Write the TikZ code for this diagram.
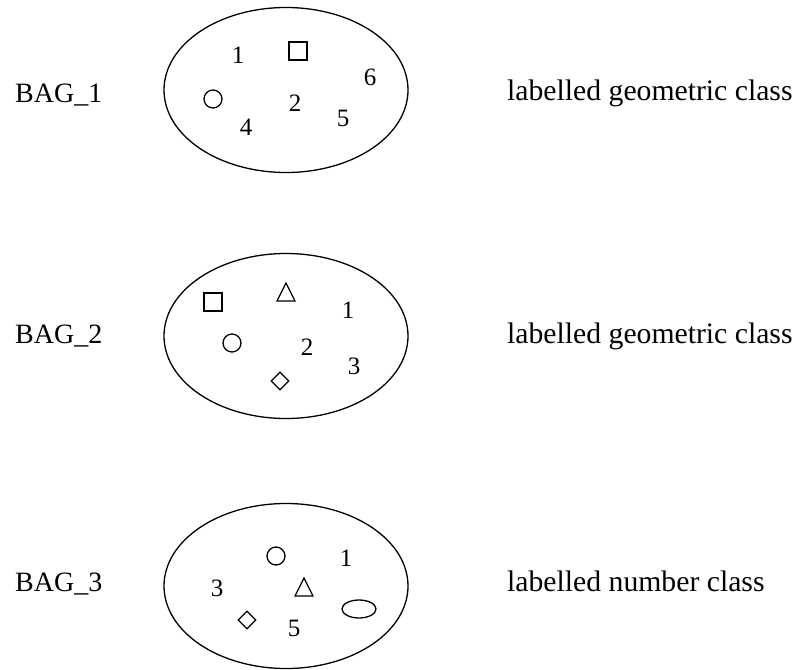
\documentclass[tikz,border=0pt]{standalone}
\usepackage{fontspec}
\setmainfont{Liberation Serif}
\usetikzlibrary{shapes.geometric}
\tikzset{
  bag/.style={draw, ellipse, line width=1.3pt, minimum width=244, minimum height=165, inner sep=0pt},
  num/.style={font=\fontsize{25}{25}\selectfont, inner sep=0pt},
  title/.style={font=\fontsize{28}{28}\selectfont, inner sep=0pt, anchor=base west},
  caption/.style={title, font=\fontsize{29.7}{29.7}\selectfont},
  sq/.style={draw, line width=1.3pt, rectangle, minimum size=18, inner sep=0pt},
  ring/.style={draw, line width=1.3pt, circle, minimum size=18, inner sep=0pt},
  dia/.style={draw, line width=1.3pt, diamond, minimum width=18, minimum height=18, inner sep=0pt},
  oval/.style={draw, line width=1.3pt, ellipse, minimum width=34, minimum height=18, inner sep=0pt},
  tri/.pic={\draw[line width=1.3pt, line join=miter] (-9,9) -- (9,9) -- (0,-9) -- cycle;}
}
\begin{document}
\begin{tikzpicture}[x=1pt, y=-1pt]
\useasboundingbox (0,0) rectangle (796,670);

% first bag
\node[title] (t1) at (15,102) {BAG\_1};
\node[bag] (b1) at (286,90) {};
\node[caption] (c1) at (507,100) {labelled geometric class};
\node[num] (b1n1) at (238,55) {1};
\node[sq] (b1sq) at (298,51) {};
\node[num] (b1n6) at (370,77) {6};
\node[ring] (b1ci) at (213,99) {};
\node[num] (b1n2) at (295,103) {2};
\node[num] (b1n5) at (343,118) {5};
\node[num] (b1n4) at (246,127) {4};

% second bag
\node[title] (t2) at (15,343) {BAG\_2};
\node[bag] (b2) at (286,336) {};
\node[caption] (c2) at (507,343) {labelled geometric class};
\node[sq] (b2sq) at (213,302) {};
\pic (b2tr) at (286,292) {tri};
\node[num] (b2n1) at (348,310) {1};
\node[ring] (b2ci) at (232,343) {};
\node[num] (b2n2) at (307,347) {2};
\node[num] (b2n3) at (354,366) {3};
\node[dia] (b2di) at (280,381) {};

% third bag
\node[title] (t3) at (15,591) {BAG\_3};
\node[bag] (b3) at (286,586) {};
\node[caption] (c3) at (507,591) {labelled number class};
\node[ring] (b3ci) at (276,556) {};
\node[num] (b3n1) at (346,558) {1};
\node[num] (b3n3) at (217,588) {3};
\pic (b3tr) at (304,587) {tri};
\node[oval] (b3ov) at (359,609) {};
\node[dia] (b3di) at (247,620) {};
\node[num] (b3n5) at (294,628) {5};
\end{tikzpicture}
\end{document}
